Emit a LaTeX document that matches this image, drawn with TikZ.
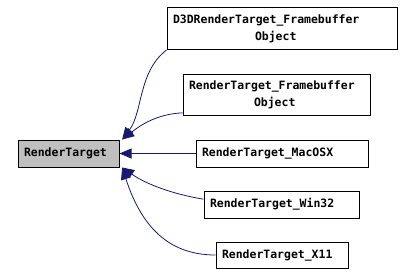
\documentclass[tikz,border=0pt]{standalone}
\usepackage{fontspec}
\newfontfamily\classfont{DejaVu Sans Mono}
\usetikzlibrary{arrows.meta}
\definecolor{edgeblue}{HTML}{191970}
\newlength{\px}
\setlength{\px}{0.75pt}
\newcommand{\secondline}[2]{\hspace*{#1\px}#2}
\tikzset{
    classbox/.style 2 args={draw=black, line width=\px, fill=white, inner sep=0pt,
        minimum width=#1*\px, minimum height=#2*\px, text width=(#1-12)*\px,
        align=left, font=\classfont\bfseries\fontsize{8.6}{12.75}\selectfont},
    inherit/.style={draw=edgeblue, line width=0.6pt,
        -{Triangle[length=9pt, width=7.5pt]}}
}

\begin{document}
\begin{tikzpicture}[x=\px, y=-\px]
        \useasboundingbox (0, 0) rectangle (414, 275);
        \node[classbox={101}{27}, fill=black!25]
            (base) at (68.5, 153.5) {RenderTarget};
        \node[classbox={230}{42}]
            (d3d) at (282, 28.5) {D3DRenderTarget\_Framebuffer\\\secondline{82}{Object}};
        \node[classbox={187}{41}]
            (fbo) at (276.5, 94.5) {RenderTarget\_Framebuffer\\\secondline{65}{Object}};
        \node[classbox={172}{27}]
            (mac) at (282, 153.5) {RenderTarget\_MacOSX};
        \node[classbox={155}{27}]
            (win) at (281.5, 204.5) {RenderTarget\_Win32};
        \node[classbox={132}{26}]
            (x11) at (282, 255) {RenderTarget\_X11};
        \draw[inherit] (d3d.south west) .. controls (138, 72) and (143, 112) .. ([xshift=2pt]base.north east);
        \draw[inherit] ([yshift=2pt]fbo.south west) .. controls (158, 114) and (142, 124) .. ([xshift=2pt]base.north east);
        \draw[inherit] (mac.west) -- (base.east);
        \draw[inherit] ([yshift=4pt]win.west) .. controls (172, 194) and (146, 184) .. ([xshift=2pt]base.south east);
        \draw[inherit] (x11.west) .. controls (165, 255) and (140, 222) .. ([xshift=2pt]base.south east);
    \end{tikzpicture}
\end{document}
